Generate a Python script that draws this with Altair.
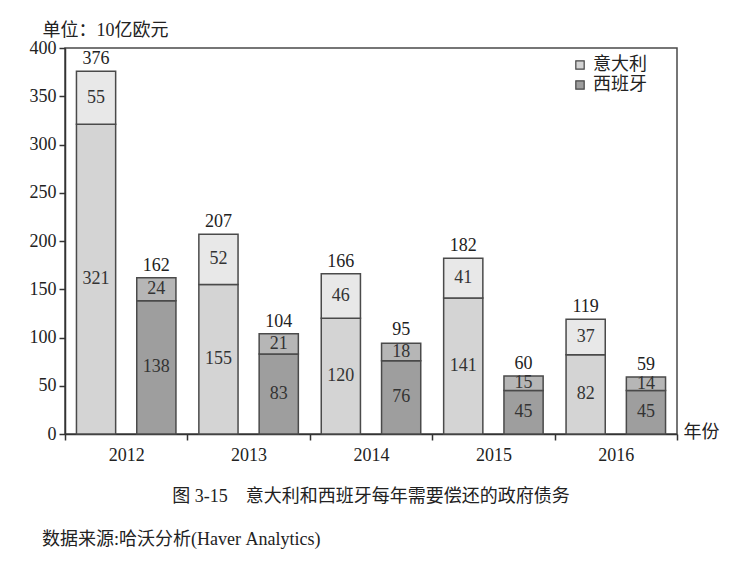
import altair as alt
import pandas as pd

years = ["2012", "2013", "2014", "2015", "2016"]
countries = ["意大利", "西班牙"]
italy_lower = [321, 155, 120, 141, 82]
italy_upper = [55, 52, 46, 41, 37]
italy_total = [376, 207, 166, 182, 119]
spain_lower = [138, 83, 76, 45, 45]
spain_upper = [24, 21, 18, 15, 14]
spain_total = [162, 104, 95, 60, 59]

y_title = "单位：10亿欧元"
x_title = "年份"
caption = "图\u00a03-15\u00a0\u00a0\u00a0\u00a0意大利和西班牙每年需要偿还的政府债务"
source = "数据来源:哈沃分析(Haver\u00a0Analytics)"

parts = ["意大利", "西班牙", "意大利·上", "西班牙·上"]
colors = ["#d4d4d4", "#9e9e9e", "#e8e8e8", "#b6b6b6"]

rows, tots = [], []
for c, lo, up, tot in [("意大利", italy_lower, italy_upper, italy_total),
                       ("西班牙", spain_lower, spain_upper, spain_total)]:
    for i, yr in enumerate(years):
        rows.append(dict(year=yr, country=c, part=c, start=0, end=lo[i],
                         mid=lo[i] / 2, label=str(lo[i])))
        rows.append(dict(year=yr, country=c, part=c + "·上", start=lo[i],
                         end=lo[i] + up[i], mid=lo[i] + up[i] / 2, label=str(up[i])))
        tots.append(dict(year=yr, country=c, total=tot[i], label=str(tot[i])))
seg = pd.DataFrame(rows)
tot = pd.DataFrame(tots)

FONT = "Liberation Serif, Noto Sans CJK SC"
TXT = "#222222"

xenc = alt.X("year:N", sort=years,
             scale=alt.Scale(paddingInner=0, paddingOuter=0),
             axis=alt.Axis(title=x_title, tickBand="extent", labelAngle=0,
                           labelFontSize=18, labelPadding=6, tickSize=6,
                           titleX=618, titleY=-2, titleAlign="left",
                           titleBaseline="middle", titleFontSize=18,
                           titleFontWeight="normal", titleColor=TXT))
xoff = alt.XOffset("country:N", sort=countries,
                   scale=alt.Scale(paddingInner=0.35, paddingOuter=0.19))
yscale = alt.Scale(domain=[0, 400])

bars = alt.Chart(seg).mark_bar(stroke="#4a4a4a", strokeWidth=1.5).encode(
    x=xenc, xOffset=xoff,
    y=alt.Y("start:Q", scale=yscale,
            axis=alt.Axis(title=y_title, values=list(range(0, 401, 50)),
                          grid=False, labelFontSize=18, tickSize=6,
                          labelPadding=3, titleAngle=0, titleX=-23, titleY=-13,
                          titleAlign="left", titleBaseline="alphabetic",
                          titleFontSize=18, titleFontWeight="normal",
                          titleColor=TXT)),
    y2="end:Q",
    fill=alt.Fill("part:N", scale=alt.Scale(domain=parts, range=colors),
                  legend=alt.Legend(values=countries, title=None, orient="none",
                                    legendX=506, legendY=8, symbolType="square",
                                    symbolSize=70, symbolStrokeColor="#444444",
                                    symbolStrokeWidth=1.2, labelFontSize=18,
                                    labelColor=TXT, labelOffset=4, rowPadding=2)),
)

seg_labels = alt.Chart(seg).mark_text(fontSize=18, color="#333333", baseline="middle").encode(
    x=xenc, xOffset=xoff, y=alt.Y("mid:Q", scale=yscale), text="label:N")

tot_labels = alt.Chart(tot).mark_text(fontSize=18, color=TXT, baseline="bottom", dy=-3).encode(
    x=xenc, xOffset=xoff, y=alt.Y("total:Q", scale=yscale), text="label:N")

cap = alt.Chart(pd.DataFrame({"t": [caption]})).mark_text(
    fontSize=18, color=TXT, align="center", baseline="middle").encode(
    text="t:N", x=alt.value(306), y=alt.value(449))
src = alt.Chart(pd.DataFrame({"t": [source]})).mark_text(
    fontSize=18, color=TXT, align="left", baseline="middle").encode(
    text="t:N", x=alt.value(-23), y=alt.value(492))

chart = alt.layer(bars, seg_labels, tot_labels, cap, src).properties(
    width=612, height=386,
    autosize=alt.AutoSizeParams(type="none"),
    padding={"left": 57, "top": 40, "right": 56, "bottom": 135},
).configure(font=FONT).configure_view(
    stroke="#4a4a4a", strokeWidth=1.5
).configure_axis(
    domainColor="#333333", domainWidth=1.5, tickColor="#333333", tickWidth=1.5,
    labelColor=TXT, labelFont=FONT, titleFont=FONT
).configure_legend(labelFont=FONT)

chart.save("out.html", embed_options={"renderer": "svg", "actions": False})
